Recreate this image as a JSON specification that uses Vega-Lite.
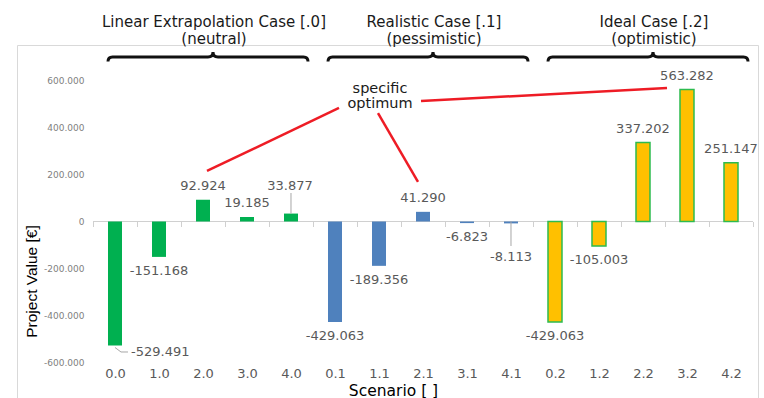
{
  "$schema": "https://vega.github.io/schema/vega-lite/v6.json",
  "width": 741,
  "height": 353,
  "autosize": {"type": "none"},
  "padding": {"left": 17, "top": 45, "right": 6, "bottom": 0},
  "background": "white",
  "config": {
    "view": {"stroke": "#d9d9d9", "strokeWidth": 1},
    "font": "DejaVu Sans",
    "locale": {"number": {"decimal": ",", "thousands": ".", "grouping": [3], "currency": ["", " €"], "minus": "-"}}
  },
  "datasets": {
    "cases": [
      {"mid": "2.0", "label": "Linear Extrapolation Case [.0]\n(neutral)"},
      {"mid": "2.1", "label": "Realistic Case [.1]\n(pessimistic)"},
      {"mid": "2.2", "label": "Ideal Case [.2]\n(optimistic)"}
    ]
  },
  "data": {
    "values": [
      {"scenario": "0.0", "case": "Linear", "value": -529491},
      {"scenario": "1.0", "case": "Linear", "value": -151168},
      {"scenario": "2.0", "case": "Linear", "value": 92924},
      {"scenario": "3.0", "case": "Linear", "value": 19185},
      {"scenario": "4.0", "case": "Linear", "value": 33877},
      {"scenario": "0.1", "case": "Realistic", "value": -429063},
      {"scenario": "1.1", "case": "Realistic", "value": -189356},
      {"scenario": "2.1", "case": "Realistic", "value": 41290},
      {"scenario": "3.1", "case": "Realistic", "value": -6823},
      {"scenario": "4.1", "case": "Realistic", "value": -8113},
      {"scenario": "0.2", "case": "Ideal", "value": -429063},
      {"scenario": "1.2", "case": "Ideal", "value": -105003},
      {"scenario": "2.2", "case": "Ideal", "value": 337202},
      {"scenario": "3.2", "case": "Ideal", "value": 563282},
      {"scenario": "4.2", "case": "Ideal", "value": 251147}
    ]
  },
  "layer": [
    {
      "mark": {"type": "bar", "width": {"band": 1}, "filled": false, "color": "#d0d0d0", "strokeWidth": 1},
      "encoding": {
        "x": {
          "field": "scenario", "type": "nominal", "title": "Scenario [ ]",
          "scale": {"domain": ["0.0","1.0","2.0","3.0","4.0","0.1","1.1","2.1","3.1","4.1","0.2","1.2","2.2","3.2","4.2"], "paddingInner": 0, "paddingOuter": 0.92045, "align": 0.93827},
          "axis": {
            "orient": "bottom", "offset": -176.5, "domain": false, "ticks": true, "tickBand": "extent", "tickSize": 5, "tickColor": "#d0d0d0",
            "labelPadding": 146.5, "labelBaseline": "middle", "labelFont": "DejaVu Sans", "labelFontSize": 13, "labelColor": "#595959", "labelAngle": 0,
            "grid": false, "titleFont": "DejaVu Sans", "titleFontSize": 15.5, "titleFontWeight": "normal", "titleColor": "#000000",
            "titleX": 376, "titleY": 168.5, "titleBaseline": "middle", "titleAlign": "center"
          }
        },
        "y": {
          "datum": 0, "type": "quantitative", "title": "Project Value [€]",
          "scale": {"domain": [-753700, 753700], "nice": false, "zero": false},
          "axis": {
            "orient": "left", "offset": -70, "values": [-600000, -400000, -200000, 0, 200000, 400000, 600000], "format": ",d",
            "domain": false, "ticks": false, "tickSize": 0, "labelPadding": 3, "labelFont": "DejaVu Sans", "labelFontSize": 9, "labelColor": "#7f7f7f", "grid": false,
            "titleFont": "Liberation Sans", "titleFontSize": 15.5, "titleFontWeight": "normal", "titleColor": "#000000",
            "titleX": -56, "titleY": 236, "titleBaseline": "middle", "titleAlign": "center", "titleAngle": -90
          }
        },
        "y2": {"datum": 0}
      }
    },
    {
      "mark": {"type": "bar", "width": 14, "strokeWidth": 1.5},
      "encoding": {
        "x": {"field": "scenario", "type": "nominal", "title": "Scenario [ ]"},
        "y": {"field": "value", "type": "quantitative", "title": "Project Value [€]"},
        "color": {"field": "case", "type": "nominal", "scale": {"domain": ["Linear", "Realistic", "Ideal"], "range": ["#00b050", "#4f81bd", "#ffc000"]}, "legend": null},
        "stroke": {"field": "case", "type": "nominal", "scale": {"domain": ["Linear", "Realistic", "Ideal"], "range": ["transparent", "transparent", "#2dbb4f"]}, "legend": null}
      }
    },
    {
      "transform": [{"filter": "datum.scenario === '4.0'"}],
      "mark": {"type": "rule", "color": "#a6a6a6", "strokeWidth": 1},
      "encoding": {
        "x": {"field": "scenario", "type": "nominal", "title": "Scenario [ ]"},
        "y": {"field": "value", "type": "quantitative", "title": "Project Value [€]"},
        "y2": {"datum": 121700}
      }
    },
    {
      "transform": [{"filter": "datum.scenario === '4.1'"}],
      "mark": {"type": "rule", "color": "#a6a6a6", "strokeWidth": 1},
      "encoding": {
        "x": {"field": "scenario", "type": "nominal", "title": "Scenario [ ]"},
        "y": {"datum": 0, "type": "quantitative", "title": "Project Value [€]"},
        "y2": {"datum": -104600}
      }
    },
    {
      "transform": [{"filter": "datum.scenario === '0.0'"}],
      "mark": {"type": "rule", "color": "#a6a6a6", "strokeWidth": 1, "xOffset": 0, "x2Offset": 6, "yOffset": 2, "y2Offset": 6.5},
      "encoding": {
        "x": {"field": "scenario", "type": "nominal", "title": "Scenario [ ]"},
        "x2": {"field": "scenario"},
        "y": {"field": "value", "type": "quantitative", "title": "Project Value [€]"},
        "y2": {"field": "value"}
      }
    },
    {
      "transform": [{"filter": "datum.scenario === '0.0'"}],
      "mark": {"type": "rule", "color": "#a6a6a6", "strokeWidth": 1, "xOffset": 6, "x2Offset": 13, "yOffset": 6.5, "y2Offset": 6.5},
      "encoding": {
        "x": {"field": "scenario", "type": "nominal", "title": "Scenario [ ]"},
        "x2": {"field": "scenario"},
        "y": {"field": "value", "type": "quantitative", "title": "Project Value [€]"},
        "y2": {"field": "value"}
      }
    },
    {
      "transform": [{"filter": "datum.value > 0 && datum.scenario !== '4.0'"}],
      "mark": {"type": "text", "baseline": "middle", "dy": -14, "fontSize": 13, "color": "#595959", "font": "DejaVu Sans"},
      "encoding": {
        "x": {"field": "scenario", "type": "nominal", "title": "Scenario [ ]"},
        "y": {"field": "value", "type": "quantitative", "title": "Project Value [€]"},
        "text": {"field": "value", "type": "quantitative", "format": ",d"}
      }
    },
    {
      "transform": [{"filter": "datum.value < 0 && datum.scenario !== '0.0' && datum.scenario !== '4.1'"}],
      "mark": {"type": "text", "baseline": "middle", "dy": 14, "fontSize": 13, "color": "#595959", "font": "DejaVu Sans"},
      "encoding": {
        "x": {"field": "scenario", "type": "nominal", "title": "Scenario [ ]"},
        "y": {"field": "value", "type": "quantitative", "title": "Project Value [€]"},
        "text": {"field": "value", "type": "quantitative", "format": ",d"}
      }
    },
    {
      "transform": [{"filter": "datum.scenario === '4.0'"}],
      "mark": {"type": "text", "baseline": "middle", "dy": -27.6, "dx": -1, "fontSize": 13, "color": "#595959", "font": "DejaVu Sans"},
      "encoding": {
        "x": {"field": "scenario", "type": "nominal", "title": "Scenario [ ]"},
        "y": {"field": "value", "type": "quantitative", "title": "Project Value [€]"},
        "text": {"field": "value", "type": "quantitative", "format": ",d"}
      }
    },
    {
      "transform": [{"filter": "datum.scenario === '4.1'"}],
      "mark": {"type": "text", "baseline": "middle", "dy": 33.6, "fontSize": 13, "color": "#595959", "font": "DejaVu Sans"},
      "encoding": {
        "x": {"field": "scenario", "type": "nominal", "title": "Scenario [ ]"},
        "y": {"field": "value", "type": "quantitative", "title": "Project Value [€]"},
        "text": {"field": "value", "type": "quantitative", "format": ",d"}
      }
    },
    {
      "transform": [{"filter": "datum.scenario === '0.0'"}],
      "mark": {"type": "text", "baseline": "middle", "align": "left", "dx": 16, "dy": 6.5, "fontSize": 13, "color": "#595959", "font": "DejaVu Sans"},
      "encoding": {
        "x": {"field": "scenario", "type": "nominal", "title": "Scenario [ ]"},
        "y": {"field": "value", "type": "quantitative", "title": "Project Value [€]"},
        "text": {"field": "value", "type": "quantitative", "format": ",d"}
      }
    },
    {
      "data": {"values": [{}]},
      "mark": {"type": "rule", "color": "#ee1c25", "strokeWidth": 2.5, "xOffset": 4, "x2Offset": 4},
      "encoding": {
        "x": {"datum": "0.1", "type": "nominal", "title": "Scenario [ ]"},
        "x2": {"datum": "2.0"},
        "y": {"datum": 484700, "type": "quantitative", "title": "Project Value [€]"},
        "y2": {"datum": 215700}
      }
    },
    {
      "data": {"values": [{}]},
      "mark": {"type": "rule", "color": "#ee1c25", "strokeWidth": 2.5, "xOffset": -1, "x2Offset": -5},
      "encoding": {
        "x": {"datum": "1.1", "type": "nominal", "title": "Scenario [ ]"},
        "x2": {"datum": "2.1"},
        "y": {"datum": 463300, "type": "quantitative", "title": "Project Value [€]"},
        "y2": {"datum": 168700}
      }
    },
    {
      "data": {"values": [{}]},
      "mark": {"type": "rule", "color": "#ee1c25", "strokeWidth": 2.5, "xOffset": -2, "x2Offset": -20},
      "encoding": {
        "x": {"datum": "2.1", "type": "nominal", "title": "Scenario [ ]"},
        "x2": {"datum": "3.2"},
        "y": {"datum": 514600, "type": "quantitative", "title": "Project Value [€]"},
        "y2": {"datum": 570100}
      }
    },
    {
      "data": {"values": [{"note": "specific\noptimum"}]},
      "mark": {"type": "text", "lineBreak": "\n", "baseline": "middle", "align": "center", "fontSize": 14.5, "lineHeight": 15, "color": "#1a1a1a", "font": "DejaVu Sans", "xOffset": 1},
      "encoding": {
        "x": {"datum": "1.1", "type": "nominal", "title": "Scenario [ ]"},
        "y": {"datum": 567900, "type": "quantitative", "title": "Project Value [€]"},
        "text": {"field": "note", "type": "nominal"}
      }
    },
    {
      "data": {"name": "cases"},
      "mark": {"type": "point", "shape": "M-1,0.045 Q-1,0 -0.955,0 L0,0 Q0.05,0 0.05,-0.05 Q0.05,0 0.1,0 L0.955,0 Q1,0 1,0.045", "size": 40000, "filled": false, "stroke": "#111111", "strokeWidth": 3, "opacity": 1, "xOffset": 5},
      "encoding": {
        "x": {"field": "mid", "type": "nominal", "title": "Scenario [ ]"},
        "y": {"datum": 702500, "type": "quantitative", "title": "Project Value [€]"}
      }
    },
    {
      "data": {"name": "cases"},
      "mark": {"type": "text", "lineBreak": "\n", "baseline": "middle", "align": "center", "fontSize": 15, "lineHeight": 16.5, "color": "#1a1a1a", "font": "DejaVu Sans", "xOffset": 11},
      "encoding": {
        "x": {"field": "mid", "type": "nominal", "title": "Scenario [ ]"},
        "y": {"datum": 851900, "type": "quantitative", "title": "Project Value [€]"},
        "text": {"field": "label", "type": "nominal"}
      }
    }
  ]
}
